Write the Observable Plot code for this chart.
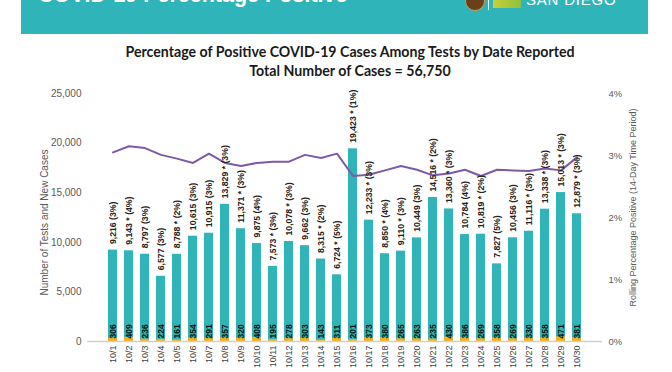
<!DOCTYPE html>
<html><head><meta charset="utf-8">
<script src="https://cdn.jsdelivr.net/npm/d3@7"></script>
<script src="https://cdn.jsdelivr.net/npm/@observablehq/plot@0.6"></script>
<style>
html,body{margin:0;padding:0;background:#fff}
body{width:672px;height:372px;overflow:hidden;position:relative;font-family:"Liberation Sans",Arial,sans-serif}
#banner{position:absolute;left:21px;top:0;width:627px;height:34px;background:#2fb4ba;overflow:hidden}
#btitle{position:absolute;left:17px;top:-15px;font:bold 21.5px "Liberation Sans",Arial,sans-serif;color:#fff;white-space:nowrap;line-height:1}
#seal{position:absolute;left:444px;top:-9px;width:18px;height:18px;border-radius:50%;background:#6b3f1a;border:1.5px solid #c9a040}
#divider{position:absolute;left:467px;top:0;width:1px;height:10px;background:#e8f6f6}
#logo{position:absolute;left:472px;top:0;width:28px;height:8px;background:linear-gradient(90deg,#c8cf3a,#8fbf3c)}
#sd{position:absolute;left:505px;top:-8px;font:15px "Liberation Sans",Arial,sans-serif;color:#fff;letter-spacing:0.8px;line-height:1;white-space:nowrap}
#title{position:absolute;left:0;top:42px;width:700px;text-align:center;font:bold 14.2px Lato,"Liberation Sans",sans-serif;color:#1a1a1a;line-height:19px}
#chart{position:absolute;left:0;top:80px}
</style>
</head><body>
<div id="banner"><div id="btitle">COVID-19 Percentage Positive</div><div id="seal"></div><div id="divider"></div><div id="logo"></div><div id="sd">SAN DIEGO</div></div>
<div id="title">Percentage of Positive COVID-19 Cases Among Tests by Date Reported<br>Total Number of Cases = 56,750</div>
<div id="chart"></div>
<script>
const dates = ["10/1","10/2","10/3","10/4","10/5","10/6","10/7","10/8","10/9","10/10","10/11","10/12","10/13","10/14","10/15","10/16","10/17","10/18","10/19","10/20","10/21","10/22","10/23","10/24","10/25","10/26","10/27","10/28","10/29","10/30"];
const tests = [9216,9143,8797,6577,8788,10615,10915,13829,11371,9875,7573,10078,9662,8315,6724,19423,12233,8850,9110,10449,14516,13360,10784,10819,7827,10456,11116,13338,15013,12879];
const cases = [306,409,236,224,161,354,291,357,320,408,195,278,303,143,311,201,373,380,265,263,235,430,386,269,358,269,330,358,471,381];
const starred = [false,true,false,false,true,false,false,true,true,false,true,true,false,true,true,true,true,true,true,false,true,true,false,true,false,false,true,true,true,true];
const dailyPct = ["3%","4%","3%","3%","2%","3%","3%","3%","3%","4%","3%","3%","3%","2%","5%","1%","3%","4%","3%","3%","2%","3%","4%","2%","5%","3%","3%","3%","3%","3%"];
const rollingPct = [3.05,3.15,3.12,3.01,2.95,2.88,3.03,2.88,2.83,2.88,2.90,2.90,3.01,2.96,3.03,2.67,2.69,2.76,2.83,2.77,2.68,2.71,2.77,2.67,2.77,2.76,2.75,2.79,2.76,2.97];
const leftTicks = [0,5000,10000,15000,20000,25000];
const rightTicks = [0,1,2,3,4];
const yMax = 25000, pctMax = 4;
const k = yMax / pctMax;
const fmt = d3.format(",");

const rows = dates.map((d,i)=>({
  date:d, tests:tests[i], cases:cases[i], pct:rollingPct[i],
  label:`${fmt(tests[i])}${starred[i]?" *":""} (${dailyPct[i]})`
}));

const chart = Plot.plot({
  width:672, height:292,
  marginTop:13, marginBottom:31, marginLeft:87, marginRight:70,
  x:{type:"band", domain:dates, padding:0.44, label:null},
  y:{domain:[0,yMax], label:null},
  style:{fontFamily:"'Liberation Sans',Arial,sans-serif", fontSize:"10px", color:"#595959", background:"transparent", overflow:"visible"},
  marks:[
    Plot.barY(rows,{x:"date", y:"tests", fill:"#2fb4ba"}),
    Plot.barY(rows,{x:"date", y:"cases", fill:"#f2b01e"}),
    Plot.ruleY([0],{stroke:"#cfcfcf", strokeWidth:1.5}),
    Plot.axisY({ticks:leftTicks, tickFormat:d=>fmt(d), tickSize:0, tickPadding:6, label:null, fontSize:10}),
    Plot.axisY({anchor:"right", ticks:rightTicks.map(t=>t*k), tickFormat:d=>`${Math.round(d/k)}%`, tickSize:0, tickPadding:6, label:null, fontSize:9.5}),
    Plot.axisX({tickRotate:-90, tickSize:0, tickPadding:4, label:null, fill:"#404040", fontSize:9}),
    Plot.line(rows,{x:"date", y:d=>d.pct*k, stroke:"#7d5aa8", strokeWidth:2}),
    Plot.text(rows,{x:"date", y:"tests", text:"label", rotate:-90, textAnchor:"start", dy:-6, fill:"#222", fontSize:8.7, fontWeight:"bold"}),
    Plot.text(rows,{x:"date", y:()=>0, text:d=>String(d.cases), rotate:-90, textAnchor:"start", dy:-3, fill:"#111", fontSize:8.5, fontWeight:"bold"}),
    Plot.text(["Number of Tests and New Cases"],{frameAnchor:"middle", dx:-300, dy:5, rotate:-90, fill:"#595959", fontSize:10}),
    Plot.text(["Rolling Percentage Positive (14-Day Time Period)"],{frameAnchor:"middle", dx:288, dy:-10, rotate:-90, fill:"#595959", fontSize:9})
  ]
});
document.getElementById("chart").append(chart);
</script>
</body></html>
